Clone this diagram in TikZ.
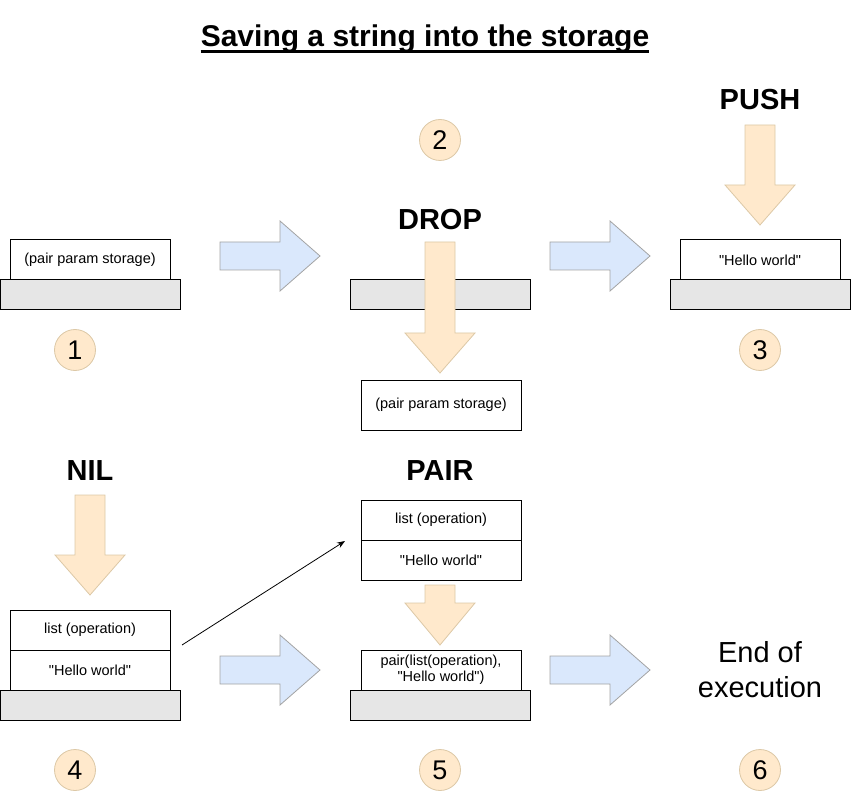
\documentclass[tikz,border=0pt]{standalone}
\usepackage{fontspec}
\setmainfont{Liberation Sans}
\usetikzlibrary{arrows.meta}
\definecolor{bluefill}{HTML}{DAE8FC}
\definecolor{bluedraw}{HTML}{A3A3A3}
\definecolor{orfill}{HTML}{FFE9CC}
\definecolor{ordraw}{HTML}{DCC8A6}
\definecolor{basegray}{HTML}{E6E6E6}
\newcommand\dq{\textquotedbl}
\newcommand\rtarrow[2]{% left x, center y
  \filldraw[rarrow] (#1,#2-14) -- ++(60,0) -- ++(0,-21) -- (#1+100,#2) -- (#1+60,#2+35) -- ++(0,-21) -- (#1,#2+14) -- cycle;}
\newcommand\dnarrow[4]{% center x, top y, head start y, tip y
  \filldraw[darrow] (#1-15,#2) -- (#1+15,#2) -- (#1+15,#3) -- (#1+35,#3) -- (#1,#4) -- (#1-35,#3) -- (#1-15,#3) -- cycle;}
\tikzset{
  rarrow/.style={fill=bluefill, draw=bluedraw, line width=0.8pt},
  darrow/.style={fill=orfill, draw=ordraw, line width=0.8pt},
  cell/.style={draw=black, fill=white, line width=1pt, minimum width=160pt, minimum height=40pt, inner sep=0pt,
    font=\fontsize{14.5}{17}\selectfont, align=center},
  base/.style={draw=black, fill=basegray, line width=1pt, minimum width=180pt, minimum height=30pt, inner sep=0pt},
  num/.style={circle, fill=orfill, draw=ordraw, line width=0.8pt, minimum size=41pt, inner sep=0pt,
    font=\fontsize{27}{30}\selectfont},
  opname/.style={font=\bfseries\fontsize{29}{34}\selectfont, inner sep=0pt},
}
\begin{document}
\begin{tikzpicture}[x=1pt,y=-1pt]
\useasboundingbox (0,0) rectangle (851,791);
% title
\node[font=\bfseries\fontsize{30}{34}\selectfont, inner sep=0pt, anchor=base] (title) at (425,47) {Saving a string into the storage};
\draw[line width=2.8pt] ([yshift=-4.5pt]title.base west) -- ([yshift=-4.5pt]title.base east);

% step 1
\node[cell] (s1) at (90,260) {(pair param storage)};
\node[base] (b1) at (90,295) {};
\node[num] (n1) at (75,350) {1};
\rtarrow{220}{256}

% step 2
\node[num] (n2) at (440,140) {2};
\node[opname] (drop) at (440,220) {DROP};
\node[base] (b2) at (440,295) {};
\dnarrow{440}{242}{333}{373}
\node[cell, minimum height=50pt] (s2) at (441,405) {(pair param storage)};
\rtarrow{550}{256}

% step 3
\node[opname] (push) at (760,100) {PUSH};
\dnarrow{760}{125}{185}{225}
\node[cell] (s3) at (760,260) {\dq Hello world\dq};
\node[base] (b3) at (760,295) {};
\node[num] (n3) at (760,350) {3};

% step 4
\node[opname] (nil) at (90,471) {NIL};
\dnarrow{90}{495}{555}{595}
\node[cell] (s4a) at (90,630) {list (operation)};
\node[cell] (s4b) at (90,670) {\dq Hello world\dq};
\node[base] (b4) at (90,705) {};
\node[num] (n4) at (75,770) {4};
\coordinate (lstart) at (182,645);
\coordinate (lend) at (345,541);
\draw[line width=0.8pt, -{Stealth[length=8pt,width=6pt]}] (lstart) -- (lend);
\rtarrow{220}{670}

% step 5
\node[opname] (pair) at (440,471) {PAIR};
\node[cell] (s5a) at (441,520) {list (operation)};
\node[cell] (s5b) at (441,560) {\dq Hello world\dq};
\dnarrow{440}{585}{603}{645}
\node[cell, font=\fontsize{14.5}{16}\selectfont] (s5) at (441,670) {pair(list(operation),\\\dq Hello world\dq)};
\node[base] (b5) at (440,705) {};
\node[num] (n5) at (440,770) {5};
\rtarrow{550}{670}

% step 6
\node[font=\fontsize{29}{35}\selectfont, align=center, inner sep=0pt] (endex) at (760,670) {End of\\execution};
\node[num] (n6) at (760,770) {6};
\end{tikzpicture}
\end{document}
